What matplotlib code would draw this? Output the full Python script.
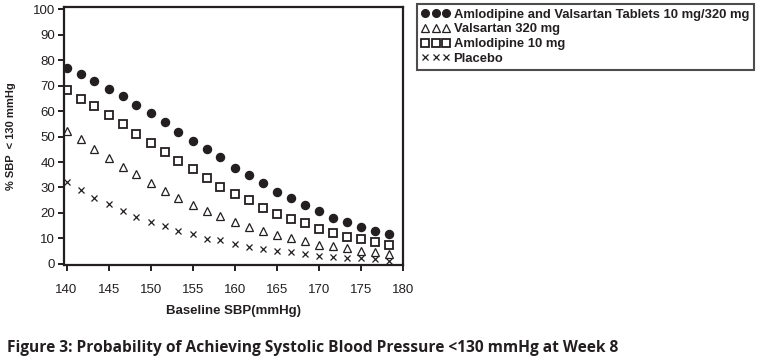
import matplotlib
matplotlib.use("Agg")
import numpy as np
import matplotlib.pyplot as plt

# baseline SBP values (every 5/3 mmHg from 140)
baseline_sbp = [140.0, 141.7, 143.3, 145.0, 146.7, 148.3, 150.0, 151.7, 153.3, 155.0,
                156.7, 158.3, 160.0, 161.7, 163.3, 165.0, 166.7, 168.3, 170.0, 171.7,
                173.3, 175.0, 176.7, 178.3]

# % of patients reaching SBP < 130 mmHg
combo = [77.0, 74.5, 71.8, 68.6, 65.8, 62.4, 59.1, 55.6, 51.8, 48.4, 45.1, 41.8,
         37.8, 34.9, 31.9, 28.4, 25.7, 23.1, 20.9, 18.2, 16.6, 14.4, 13.1, 11.8]
valsartan = [52.3, 49.0, 45.0, 41.7, 38.2, 35.2, 31.6, 28.8, 25.7, 23.1, 20.9, 18.8,
             16.6, 14.4, 12.9, 11.4, 10.1, 9.2, 7.5, 7.1, 6.1, 5.2, 4.8, 3.8]
amlodipine = [68.2, 64.8, 62.0, 58.3, 54.9, 51.1, 47.3, 44.0, 40.5, 37.1, 33.6, 30.3,
              27.5, 25.1, 22.1, 19.5, 17.5, 16.0, 13.7, 12.3, 10.5, 9.7, 8.5, 7.5]
placebo = [32.0, 29.0, 25.7, 23.4, 20.9, 18.5, 16.6, 14.9, 13.1, 11.6, 9.8, 9.4,
           7.8, 6.8, 5.9, 5.1, 4.6, 3.9, 3.3, 2.9, 2.5, 2.2, 1.8, 1.3]

labels = ["Amlodipine and Valsartan Tablets 10 mg/320 mg", "Valsartan 320 mg",
          "Amlodipine 10 mg", "Placebo"]
x_ticks = [140, 145, 150, 155, 160, 165, 170, 175, 180]
y_ticks = [0, 10, 20, 30, 40, 50, 60, 70, 80, 90, 100]

ink = "#231f20"
plt.rcParams["font.family"] = ["Liberation Sans", "DejaVu Sans"]

fig = plt.figure(figsize=(7.65, 3.61), dpi=100)
ax = fig.add_axes([64 / 765, 96 / 361, 339 / 765, 258 / 361])

h1, = ax.plot(baseline_sbp, combo, ls="none", marker="o", ms=5.8, color=ink, mec=ink)
h2, = ax.plot(baseline_sbp, valsartan, ls="none", marker="^", ms=6.2, mfc="none", mec=ink, mew=0.9)
h3, = ax.plot(baseline_sbp, amlodipine, ls="none", marker="s", ms=5.4, mfc="none", mec=ink, mew=1.3)
h4, = ax.plot(baseline_sbp, placebo, ls="none", marker="x", ms=5.0, color=ink, mew=0.9)

ax.set_xlim(139.7, 180)
ax.set_ylim(-0.4, 100.8)
ax.set_xticks(x_ticks)
ax.set_yticks(y_ticks)
for s in ax.spines.values():
    s.set_linewidth(1.6)
    s.set_color(ink)
ax.tick_params(direction="out", length=4.5, width=1.4, colors=ink, labelsize=9.5, pad=2)
ax.tick_params(axis="x", pad=9)

ax.set_xlabel("Baseline SBP(mmHg)", fontsize=9.5, fontweight="bold", color=ink, labelpad=7)
ax.set_ylabel("% SBP  < 130 mmHg", fontsize=8, fontweight="bold", color=ink, labelpad=12)

leg = fig.legend([h1, h2, h3, h4], labels, loc="upper left",
                 bbox_to_anchor=(417 / 765, 1 - 4 / 361), borderaxespad=0,
                 numpoints=3, handlelength=2.2, handletextpad=0.25, labelspacing=0.2,
                 borderpad=0.35, fancybox=False, edgecolor=ink, markerscale=0.95,
                 prop={"family": "Liberation Sans", "weight": "bold", "size": 9.4})
leg.get_frame().set_linewidth(1.5)
for t in leg.get_texts():
    t.set_color(ink)

fig.text(7 / 765, 1 - 348 / 361, "Figure 3: Probability of Achieving Systolic Blood Pressure <130 mmHg at Week 8",
         family="Open Sans", fontstretch="condensed", fontweight="bold", fontsize=11.2,
         color=ink, va="center", ha="left")

fig.savefig("out.png", dpi=100)
